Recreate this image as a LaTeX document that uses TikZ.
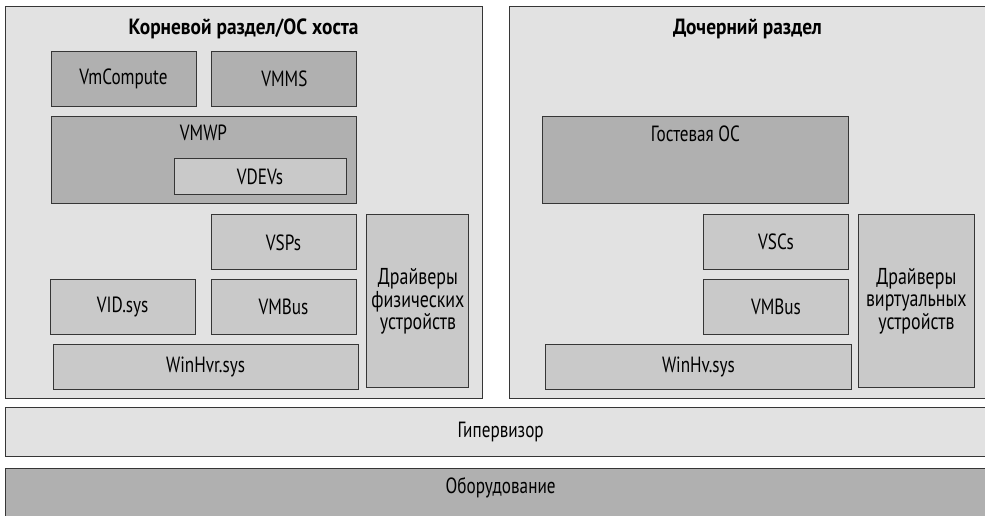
\documentclass[tikz,border=0pt]{standalone}
\usepackage{fontspec}
\setmainfont[FakeStretch=0.78,BoldFeatures={FakeStretch=0.88}]{PT Sans}
\usetikzlibrary{positioning}

\definecolor{partbg}{HTML}{E2E2E2}
\definecolor{modbg}{HTML}{C9C9C9}
\definecolor{procbg}{HTML}{B0B0B0}
\definecolor{edge}{HTML}{363636}

\begin{document}
\begin{tikzpicture}[x=1pt,y=-1pt,node distance=9pt and 15pt]

	\tikzstyle{partition}=[rectangle,draw=edge,line width=1.3pt,fill=partbg,inner sep=0pt,anchor=north west]
	\tikzstyle{module}=[rectangle,draw=edge,line width=0.9pt,fill=modbg,inner sep=0pt,minimum width=145pt,minimum height=55pt,align=center,font=\fontsize{22}{21}\selectfont]
	\tikzstyle{process}=[module,fill=procbg]
	\tikzstyle{drivers}=[module,font=\fontsize{23}{22.5}\selectfont]
	\tikzstyle{heading}=[font=\bfseries\fontsize{22}{22}\selectfont]
	\tikzstyle{toptext}=[anchor=north,inner sep=0pt,font=\fontsize{22}{22}\selectfont]

	\useasboundingbox (0,0) rectangle (985,515);

	% root partition / host OS
	\node [partition,minimum width=477pt,minimum height=392pt] (root) at (5,6) {};
	\node [heading] (roottitle) at (243.5,29) {Корневой раздел/ОС хоста};

	\node [process] (vmc) at (123.5,78.5) {VmCompute};
	\node [process] (vmms) [right=15pt of vmc] {VMMS};
	\node [process,minimum width=305pt,minimum height=87pt,below=10pt of vmc.south west,anchor=north west,
		label={[toptext,yshift=-8pt]north:VMWP}] (vmwp) {};
	\node [module,minimum width=172pt,minimum height=36pt,anchor=south east] (vdevs)
		at ([xshift=-10pt,yshift=9pt]vmwp.south east) {VDEVs};

	\node [module] (vsps) [below=10pt of vmwp.south east,anchor=north east] {VSPs};
	\node [module] (vmbus1) [below=of vsps] {VMBus};
	\node [module] (vid) [left=of vmbus1] {VID.sys};
	\node [module,minimum width=305pt,minimum height=45pt] (winhvr)
		[below=9pt of vid.south west,anchor=north west,xshift=3pt] {WinHvr.sys};
	\node [drivers,minimum width=102pt,minimum height=173pt] (physdrv)
		[right=10pt of vsps.north east,anchor=north west] {Драйверы\\физических\\устройств};

	% child partition
	\node [partition,minimum width=485pt,minimum height=392pt] (child) at (509,6) {};
	\node [heading] (childtitle) at (747.5,29) {Дочерний раздел};

	\node [process,minimum width=306pt,minimum height=87pt,anchor=north west,
		label={[toptext,yshift=-10pt]north:Гостевая ОС}] (guest) at (542,116) {};
	\node [module] (vscs) [below=10pt of guest.south east,anchor=north east] {VSCs};
	\node [module] (vmbus2) [below=of vscs] {VMBus};
	\node [module,minimum width=306pt,minimum height=45pt] (winhv)
		[below=9pt of vmbus2.south east,anchor=north east,xshift=3pt] {WinHv.sys};
	\node [drivers,minimum width=116pt,minimum height=173pt] (virtdrv)
		[right=9pt of vscs.north east,anchor=north west] {Драйверы\\виртуальных\\устройств};

	% hypervisor and hardware layers
	\node [partition,minimum width=990pt,minimum height=49pt,font=\fontsize{22}{22}\selectfont] (hv) at (5,407)
		{\parbox[c][49pt][c]{990pt}{\centering Гипервизор}};
	\node [partition,fill=procbg,minimum width=990pt,minimum height=60pt,
		label={[toptext,yshift=-9pt]north:Оборудование}] (hw) at (5,468) {};

\end{tikzpicture}
\end{document}
